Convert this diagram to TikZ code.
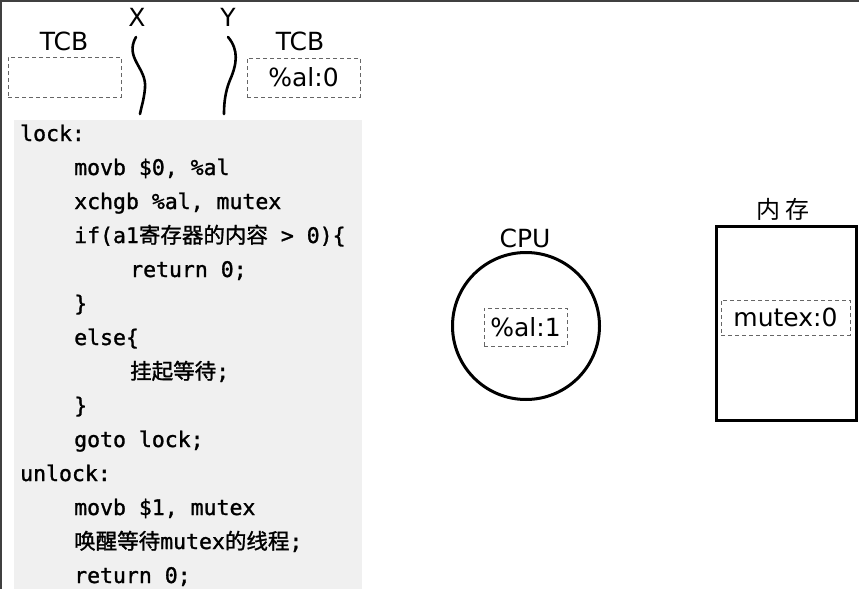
\documentclass[tikz,border=0pt]{standalone}
\usepackage{fontspec}
\setmainfont{DejaVu Sans}
\newfontfamily\mono[FakeBold=1.3]{DejaVu Sans Mono}
\newfontfamily\cjk{Noto Sans CJK SC}
\newfontfamily\cjkcode[FakeBold=1.3]{Noto Sans CJK SC}
\begin{document}
\begin{tikzpicture}[x=1pt,y=-1pt,
  lbl/.style={font=\fontsize{25}{28}\selectfont, inner sep=0pt},
  dbox/.style={draw=black!60, dashed, dash pattern=on 4pt off 3pt, line width=0.9pt, inner sep=0pt},
  code/.style={anchor=base west, inner sep=0pt, font=\mono\fontsize{21.5}{26}\selectfont},
  curve/.style={line width=2.6pt, line cap=round},
  thick3/.style={line width=3pt}]
\useasboundingbox (0,0) rectangle (859,589);
% frame edges
\draw[line width=2.5pt, black!75] (0,1) -- (859,1);
\draw[line width=2.5pt, black!75] (1,0) -- (1,589);
% code background
\fill[black!6] (14,120) rectangle (362,589);
% top area
\node[lbl] (tcbL) at (64,41) {TCB};
\node[dbox, minimum width=113pt, minimum height=40pt] (boxL) at (64.5,77) {};
\node[lbl] (tcbR) at (300,41) {TCB};
\node[dbox, minimum width=113pt, minimum height=39pt, lbl] (boxR) at (303.5,77.5) {\%al:0};
\node[lbl] (X) at (137,17) {X};
\node[lbl] (Y) at (228,17) {Y};
\draw[curve] (136,37) .. controls (124,58) and (147,68) .. (145,88) .. controls (144,100) and (141,108) .. (140,114);
\draw[curve] (228,37) .. controls (239,50) and (237,64) .. (230,80) .. controls (225,92) and (224,104) .. (224,114);
% code
\node[code] (c1) at (20,141) {lock:};
\node[code] (c2) at (74,175) {movb \$0, \%al};
\node[code] (c3) at (74,209) {xchgb \%al, mutex};
\node[code] (c4) at (74,243) {if(a1{\cjkcode 寄存器的内容} > 0)\{};
\node[code] (c5) at (130,277) {return 0;};
\node[code] (c6) at (74,311) {\}};
\node[code] (c7) at (74,345) {else\{};
\node[code] (c8) at (130,379) {{\cjkcode 挂起等待};};
\node[code] (c9) at (74,413) {\}};
\node[code] (c10) at (74,447) {goto lock;};
\node[code] (c11) at (20,481) {unlock:};
\node[code] (c12) at (74,515) {movb \$1, mutex};
\node[code] (c13) at (74,549) {{\cjkcode 唤醒等待}mutex{\cjkcode 的线程};};
\node[code] (c14) at (74,583) {return 0;};
% CPU
\node[draw, circle, thick3, minimum size=147pt, inner sep=0pt] (cpu) at (526,326) {};
\node[lbl] (cpuL) at (525,238) {CPU};
\node[dbox, lbl, minimum width=83pt, minimum height=38pt] (al) at (525.5,327) {\%al:1};
% memory
\node[draw, thick3, minimum width=140pt, minimum height=194pt, inner sep=0pt] (mem) at (786.5,323.5) {};
\node[inner sep=0pt, font=\cjk\fontsize{24}{26}\selectfont] (memL) at (783,209) {内\hspace{5pt}存};
\node[dbox, lbl, minimum width=129pt, minimum height=35pt] (mtx) at (785.5,317.5) {mutex:0};
\end{tikzpicture}
\end{document}
